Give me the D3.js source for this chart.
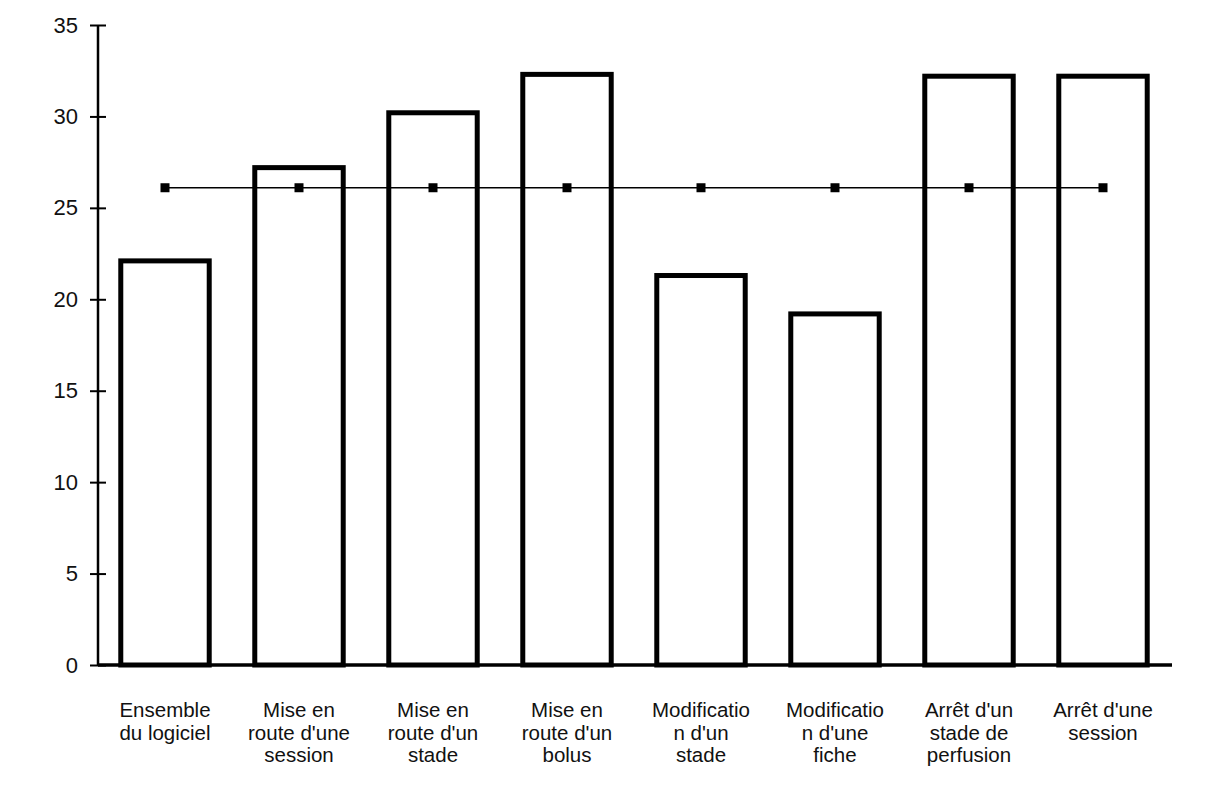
<!DOCTYPE html>
<html><head><meta charset="utf-8">
<script src="https://cdn.jsdelivr.net/npm/d3@7/dist/d3.min.js"></script>
<style>body{margin:0;background:#fff}svg{display:block}text{font-family:"Liberation Sans",Arial,sans-serif;fill:#111}</style>
</head><body><svg id="c" width="1224" height="810"></svg>
<script>
const categories = [
  ["Ensemble","du logiciel"],
  ["Mise en","route d'une","session"],
  ["Mise en","route d'un","stade"],
  ["Mise en","route d'un","bolus"],
  ["Modificatio","n d'un","stade"],
  ["Modificatio","n d'une","fiche"],
  ["Arrêt d'un","stade de","perfusion"],
  ["Arrêt d'une","session"]
];
const barValues = [22.1, 27.2, 30.2, 32.3, 21.3, 19.2, 32.2, 32.2];
const lineValues = [26.1, 26.1, 26.1, 26.1, 26.1, 26.1, 26.1, 26.1];
const yTicks = [0, 5, 10, 15, 20, 25, 30, 35];

const svg = d3.select("#c");
const x0 = 98, x1 = 1170, yTop = 25, yBot = 665;
const keys = categories.map((d,i)=>i);
const x = d3.scaleBand().domain(keys).range([x0, x1]).paddingInner(0.34).paddingOuter(0.17);
const y = d3.scaleLinear().domain([0, 35]).range([yBot, yTop]);

// bars
svg.append("g").selectAll("rect").data(barValues).join("rect")
  .attr("x", (d,i)=>x(i)).attr("y", d=>y(d))
  .attr("width", x.bandwidth()).attr("height", d=>y(0)-y(d))
  .attr("fill", "#fff").attr("stroke", "#000").attr("stroke-width", 5);

// y axis
const yAxis = svg.append("g").attr("transform", `translate(${x0},0)`)
  .call(d3.axisLeft(y).tickValues(yTicks).tickSize(8).tickPadding(12));
yAxis.attr("font-size", null).attr("font-family", null);
yAxis.select(".domain").attr("stroke","#000").attr("stroke-width",2.5).attr("d", `M0,${yBot}V${yTop}`);
yAxis.selectAll(".tick line").attr("x1",-8).attr("x2",8).attr("stroke","#000").attr("stroke-width",2);
yAxis.selectAll(".tick text").style("font-size","22px").attr("fill","#111");

// x axis
const xAxis = svg.append("g").attr("transform", `translate(0,${yBot})`)
  .call(d3.axisBottom(x).tickSize(0).tickFormat(""));
xAxis.select(".domain").attr("stroke","#000").attr("stroke-width",3.5).attr("d", `M${x0},0H1172`);

// category labels
const lab = svg.append("g").selectAll("text").data(categories).join("text")
  .attr("text-anchor","middle").style("font-size","20.5px")
  .attr("x",(d,i)=>x(i)+x.bandwidth()/2).attr("y",717);
lab.selectAll("tspan").data(d=>d).join("tspan")
  .attr("x", function(){return this.parentNode.getAttribute("x");})
  .attr("dy",(d,j)=>j===0?0:"22.5").text(d=>d);

// line series
const line = d3.line().x((d,i)=>x(i)+x.bandwidth()/2).y(d=>y(d));
svg.append("path").datum(lineValues).attr("d", line)
  .attr("fill","none").attr("stroke","#000").attr("stroke-width",1.5);
svg.append("g").selectAll("rect").data(lineValues).join("rect")
  .attr("x",(d,i)=>x(i)+x.bandwidth()/2-4.5).attr("y",d=>y(d)-4.5)
  .attr("width",9).attr("height",9).attr("fill","#000");
</script></body></html>
